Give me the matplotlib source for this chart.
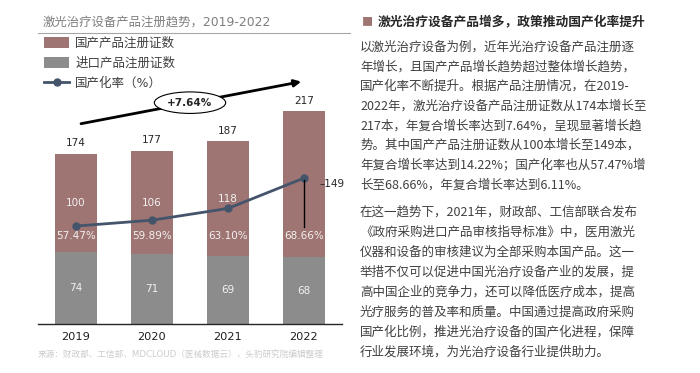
import matplotlib
matplotlib.use('Agg')
import matplotlib.pyplot as plt
from matplotlib.lines import Line2D

plt.rcParams['font.family'] = ['DejaVu Sans', 'Noto Sans CJK SC']

# data
years = ['2019', '2020', '2021', '2022']
domestic = [100, 106, 118, 149]
imported = [74, 71, 69, 68]
totals = [174, 177, 187, 217]
rates = ['57.47%', '59.89%', '63.10%', '68.66%']
cagr_label = '+7.64%'

title = '激光治疗设备产品注册趋势，2019-2022'
source = '来源：财政部、工信部、MDCLOUD（医械数据云），头豹研究院编辑整理'
heading = '激光治疗设备产品增多，政策推动国产化率提升'
para1 = [
    '以激光治疗设备为例，近年光治疗设备产品注册逐',
    '年增长，且国产产品增长趋势超过整体增长趋势，',
    '国产化率不断提升。根据产品注册情况，在2019-',
    '2022年，激光治疗设备产品注册证数从174本增长至',
    '217本，年复合增长率达到7.64%，呈现显著增长趋',
    '势。其中国产产品注册证数从100本增长至149本，',
    '年复合增长率达到14.22%；国产化率也从57.47%增',
    '长至68.66%，年复合增长率达到6.11%。',
]
para2 = [
    '在这一趋势下，2021年，财政部、工信部联合发布',
    '《政府采购进口产品审核指导标准》中，医用激光',
    '仪器和设备的审核建议为全部采购本国产品。这一',
    '举措不仅可以促进中国光治疗设备产业的发展，提',
    '高中国企业的竞争力，还可以降低医疗成本，提高',
    '光疗服务的普及率和质量。中国通过提高政府采购',
    '国产化比例，推进光治疗设备的国产化进程，保障',
    '行业发展环境，为光治疗设备行业提供助力。',
]

c_dom = '#9E7573'
c_imp = '#8C8C8C'
c_line = '#44546A'
c_text = '#404040'

W, H = 700, 373
fig = plt.figure(figsize=(7, 3.73), dpi=100)


def fx(px):
    return px / W


def fy(py):
    return 1 - py / H


ax = fig.add_axes([fx(38), fy(324), fx(304), (324 - 40) / H])
x = list(range(len(years)))

b_imp = ax.bar(x, imported, width=0.54, color=c_imp, label='进口产品注册证数')
b_dom = ax.bar(x, domestic, width=0.54, bottom=imported, color=c_dom, label='国产产品注册证数')
ln, = ax.plot(x, domestic, color=c_line, lw=2, marker='o', ms=5, label='国产化率（%）')

ax.set_xlim(-0.5, 3.5)
ax.set_ylim(0, 290)
for s in ['top', 'left', 'right']:
    ax.spines[s].set_visible(False)
ax.spines['bottom'].set_color('#262626')
ax.spines['bottom'].set_linewidth(1.0)
ax.set_yticks([])
ax.set_xticks(x)
ax.set_xticklabels(years, fontsize=8.2, color='#1F1F1F')
ax.tick_params(axis='x', length=0, pad=6)

# labels
for i in x:
    ax.text(i, totals[i] + 10.5, str(totals[i]), ha='center', va='center',
            fontsize=7.5, color='#262626')
    ax.text(i, imported[i] / 2, str(imported[i]), ha='center', va='center',
            fontsize=7.5, color='#F2F2F2')
    ax.text(i, 89.5, rates[i], ha='center', va='center', fontsize=7.5, color='#F2F2F2')
    if i < len(x) - 1:
        ax.text(i, imported[i] + domestic[i] / 2, str(domestic[i]), ha='center',
                va='center', fontsize=7.5, color='#F2F2F2')

# 2022 domestic value called out beside the bar
last = x[-1]
ax.plot([last, last], [domestic[-1] - 2, 99], color='black', lw=1)
ax.text(last + 0.21, 142.5, '–149', ha='left', va='center', fontsize=7.5, color='#262626')

# growth arrow
ax.annotate('', xy=(3.0, 248), xytext=(0.03, 204),
            arrowprops=dict(arrowstyle='-|>', color='black', lw=2, mutation_scale=10))
ax.text(1.5, 226, cagr_label, ha='center', va='center', fontsize=7.5, fontweight='bold',
        color='#262626',
        bbox=dict(boxstyle='ellipse,pad=0.25', fc='white', ec='black', lw=0.8))

leg = ax.legend(handles=[b_dom, b_imp, ln], loc='upper left',
                bbox_to_anchor=(fx(44), fy(37)), bbox_transform=fig.transFigure,
                frameon=False, fontsize=9, handlelength=2.0, handleheight=1.0,
                labelspacing=0.55, handletextpad=0.5, borderpad=0, borderaxespad=0)
for t in leg.get_texts():
    t.set_color(c_text)

# title and rule
fig.text(fx(43), fy(22), title, fontsize=8.9, color='#7F7F7F', ha='left', va='center')
fig.add_artist(Line2D([fx(38), fx(350)], [fy(33), fy(33)], color='#A6A6A6', lw=0.8))

fig.text(fx(38), fy(354), source, fontsize=6.2, color='#CCCCCC', ha='left', va='center')

# right side text
cjk = ['Noto Sans CJK SC', 'DejaVu Sans']
fig.text(fx(362), fy(22), '■', fontsize=8, color=c_dom, ha='left', va='center', family=cjk)
fig.text(fx(378), fy(22), heading, fontsize=9.2, fontweight='bold', color='#262626',
         ha='left', va='center', family=cjk)
for k, line in enumerate(para1):
    fig.text(fx(360), fy(47 + k * 19.7), line, fontsize=9, color=c_text,
             ha='left', va='center', family=cjk)
for k, line in enumerate(para2):
    fig.text(fx(360), fy(212 + k * 20), line, fontsize=9, color=c_text,
             ha='left', va='center', family=cjk)

fig.savefig('out.png', dpi=100, facecolor='white')
